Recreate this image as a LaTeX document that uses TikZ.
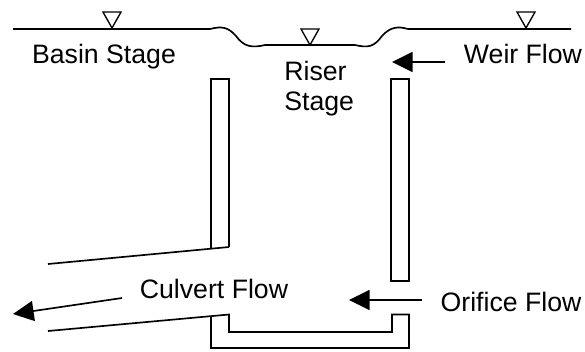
\documentclass[tikz,border=0pt]{standalone}
\usepackage{fontspec}
\setmainfont{Liberation Sans}
\usetikzlibrary{arrows.meta}

\begin{document}
\begin{tikzpicture}[
  x=0.75pt, y=-0.75pt,
  >={Triangle[length=15.5pt,width=15pt]},
  line width=1.25pt,
  flowlabel/.style={inner sep=0pt, align=left, font=\fontsize{20}{22}\selectfont},
  level/.style={line width=1pt, line join=miter}
]
\useasboundingbox (0,0) rectangle (585,351);

% labels
\node[flowlabel, anchor=base] (basin) at (104,63) {Basin Stage};
\node[flowlabel, anchor=west] (riser) at (283.5,88.5) {Riser\\Stage};
\node[flowlabel, anchor=base] (weir) at (523,63) {Weir Flow};
\node[flowlabel, anchor=base] (culvert) at (214,298) {Culvert Flow};
\node[flowlabel, anchor=base] (orifice) at (511,311) {Orifice Flow};

% water surface
\draw (13,29) -- (210,29) .. controls (222,26) and (228,27) .. (236,36)
  .. controls (244,47) and (252,48) .. (265,45) -- (355,45)
  .. controls (368,48) and (374,47) .. (382,36)
  .. controls (390,27) and (398,26) .. (408,29) -- (571,29);
\draw[level] (103,12) -- (121,12) -- (112,28) -- cycle;
\draw[level] (301,29) -- (319,29) -- (310,45) -- cycle;
\draw[level] (517,12) -- (535,12) -- (526,28) -- cycle;

% riser walls and culvert
\draw (211,248.5) -- (211,79) -- (229,79) -- (229,247);
\draw (48,264) -- (229,247);
\draw (391,281) rectangle (409,79);
\draw (48,331) -- (229,314.5) -- (229,332) -- (392,332) -- (392,314.5) -- (409,314.5) -- (409,348) -- (211,348) -- (211,315.5);

% flow arrows
\coordinate (weirstart) at (445,62);
\coordinate (weirtip) at (392,62);
\coordinate (orificestart) at (422,300);
\coordinate (orificetip) at (349,300);
\coordinate (culvertstart) at (122,298);
\coordinate (culverttip) at (13,314);
\draw[->] (weirstart) -- (weirtip);
\draw[->] (orificestart) -- (orificetip);
\draw[->] (culvertstart) -- (culverttip);
\end{tikzpicture}
\end{document}
